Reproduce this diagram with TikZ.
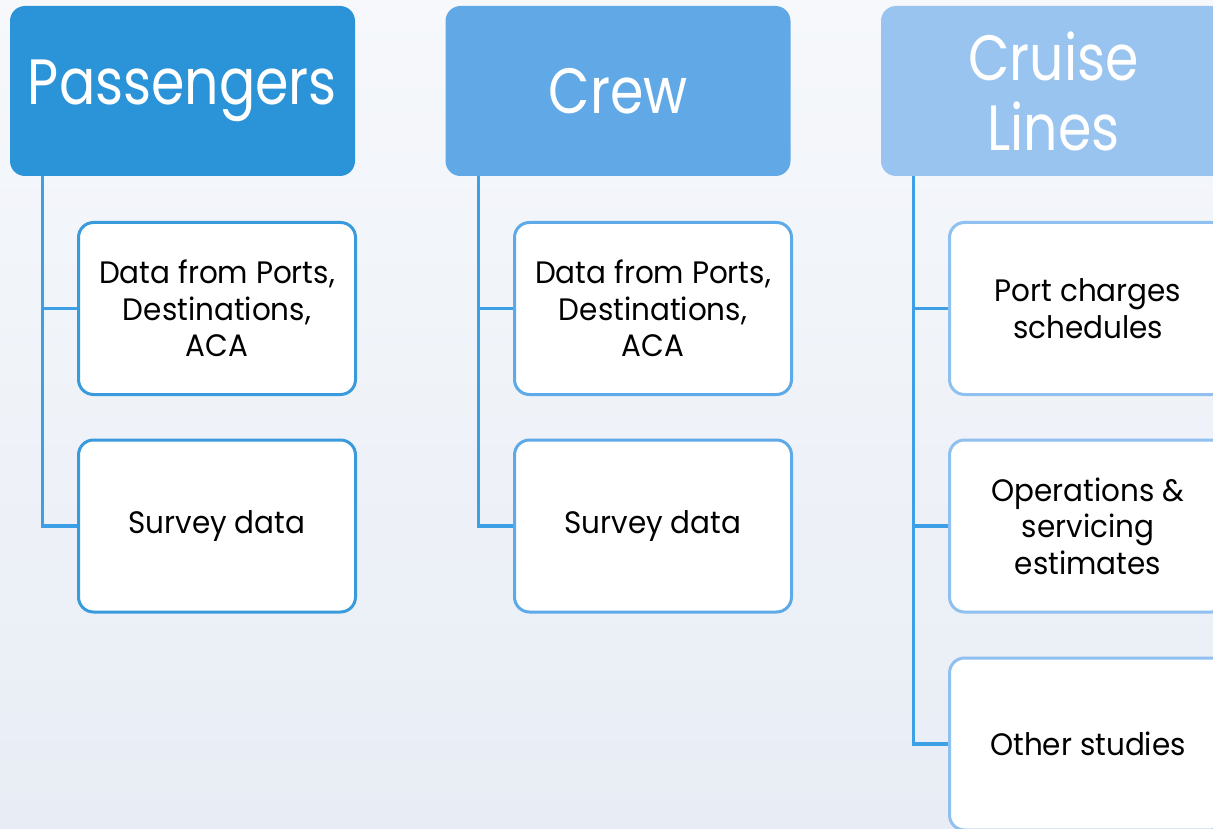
\documentclass[tikz,border=0pt]{standalone}
\usepackage{fontspec}
\setmainfont{Poppins}
\newfontfamily\headfont[FakeStretch=0.84]{Poppins}
\newfontfamily\itemfont[FakeStretch=0.95]{Poppins}
\definecolor{pagetop}{RGB}{246,248,251}
\definecolor{pagebot}{RGB}{232,237,245}
\definecolor{headA}{RGB}{43,147,216}
\definecolor{headB}{RGB}{97,169,230}
\definecolor{headC}{RGB}{153,196,240}
\definecolor{wireblue}{RGB}{61,160,230}
\definecolor{edgeA}{RGB}{58,155,220}
\definecolor{edgeB}{RGB}{94,170,232}
\definecolor{edgeC}{RGB}{144,192,240}
\begin{document}
\begin{tikzpicture}
      [x=1pt, y=-1pt,
      every node/.style={rounded corners=15pt, align=center, inner sep=0pt},
      head/.style={minimum width=345pt, minimum height=170pt, text=white,
        font=\headfont\fontsize{64}{70}\selectfont},
      item/.style={fill=white, line width=3pt, minimum width=277pt, minimum height=172pt,
        font=\itemfont\fontsize{31}{36.5}\selectfont},
      wire/.style={draw=wireblue, line width=3.2pt},
      ]
      \clip (0,0) rectangle (1213,829);
      \shade[top color=pagetop, bottom color=pagebot] (0,0) rectangle (1213,829);
      % column headers
      \node[head, fill=headA] (pass) at (182.5,91) {Passengers};
      \node[head, fill=headB] (crew) at (618,91) {Crew};
      \node[head, fill=headC] (lines) at (1053.5,91) {Cruise\\Lines};
      % passengers
      \node[item, draw=edgeA] (pass1) at (217,308.5) {Data from Ports,\\Destinations,\\ACA};
      \node[item, draw=edgeA] (pass2) at (217,526) {Survey data};
      % crew
      \node[item, draw=edgeB] (crew1) at (653,308.5) {Data from Ports,\\Destinations,\\ACA};
      \node[item, draw=edgeB] (crew2) at (653,526) {Survey data};
      % cruise lines
      \node[item, draw=edgeC] (lines1) at (1088,308.5) {Port charges\\schedules};
      \node[item, draw=edgeC] (lines2) at (1088,526) {Operations \&\\servicing\\estimates};
      \node[item, draw=edgeC] (lines3) at (1088,744) {Other studies};
      % connectors
      \draw[wire] ([xshift=33pt]pass.south west) |- (pass1.west);
      \draw[wire] ([xshift=33pt]pass.south west) |- (pass2.west);
      \draw[wire] ([xshift=33pt]crew.south west) |- (crew1.west);
      \draw[wire] ([xshift=33pt]crew.south west) |- (crew2.west);
      \draw[wire] ([xshift=33pt]lines.south west) |- (lines1.west);
      \draw[wire] ([xshift=33pt]lines.south west) |- (lines2.west);
      \draw[wire] ([xshift=33pt]lines.south west) |- (lines3.west);
\end{tikzpicture}
\end{document}
